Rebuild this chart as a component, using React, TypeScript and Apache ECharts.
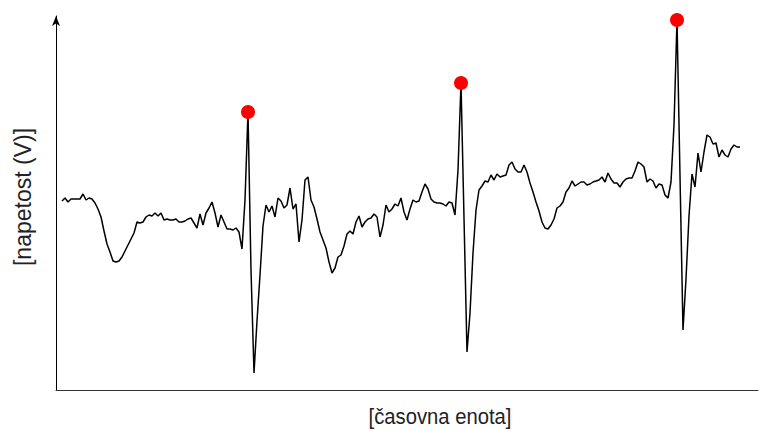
import React, { useEffect, useRef } from "react";
import * as echarts from "echarts";

// ECG trace, one sample every time step (amplitude in mV)
const ecg: number[] = [
  -0.01, 0.02, -0.02, 0.01, 0.01, 0.01, 0.01, 0.06, 0.0, 0.02,
  0.01, -0.03, -0.09, -0.17, -0.31, -0.44, -0.52, -0.61, -0.62, -0.61,
  -0.57, -0.51, -0.45, -0.39, -0.33, -0.22, -0.23, -0.22, -0.17, -0.15,
  -0.16, -0.13, -0.16, -0.13, -0.2, -0.19, -0.2, -0.2, -0.19, -0.22,
  -0.22, -0.21, -0.19, -0.18, -0.23, -0.28, -0.14, -0.25, -0.13, -0.08,
  -0.02, -0.13, -0.27, -0.15, -0.22, -0.29, -0.29, -0.3, -0.28, -0.32,
  -0.49, 0.0, 0.88, -0.7, -1.73, -1.21, -0.75, -0.26, -0.05, -0.12,
  -0.06, -0.17, 0.02, -0.01, -0.08, -0.05, 0.12, -0.09, -0.04, -0.42,
  -0.2, 0.2, 0.23, 0.0, -0.07, -0.19, -0.32, -0.4, -0.48, -0.62,
  -0.73, -0.68, -0.57, -0.55, -0.46, -0.34, -0.31, -0.34, -0.22, -0.16,
  -0.27, -0.22, -0.19, -0.18, -0.14, -0.17, -0.37, -0.25, -0.05, -0.12,
  -0.09, -0.04, -0.06, 0.02, -0.12, -0.2, -0.09, 0.0, -0.02, -0.01,
  0.08, 0.16, 0.11, 0.01, -0.02, -0.03, -0.03, -0.04, -0.06, -0.02,
  -0.03, -0.15, 0.3, 1.17, -0.18, -1.52, -1.13, -0.53, -0.1, 0.1,
  0.14, 0.19, 0.18, 0.25, 0.2, 0.26, 0.23, 0.24, 0.25, 0.35,
  0.38, 0.31, 0.28, 0.28, 0.35, 0.28, 0.17, 0.08, -0.02, -0.11,
  -0.22, -0.28, -0.29, -0.25, -0.19, -0.08, -0.06, -0.02, 0.08, 0.12,
  0.19, 0.14, 0.16, 0.18, 0.18, 0.15, 0.16, 0.18, 0.19, 0.2,
  0.23, 0.18, 0.27, 0.21, 0.17, 0.17, 0.13, 0.18, 0.21, 0.22,
  0.22, 0.29, 0.38, 0.36, 0.33, 0.18, 0.21, 0.19, 0.12, 0.16,
  0.15, 0.05, 0.02, 0.18, 0.75, 1.8, 0.24, -1.3, -0.79, -0.16,
  0.26, 0.13, 0.47, 0.28, 0.48, 0.65, 0.63, 0.56, 0.57, 0.43,
  0.5, 0.45, 0.43, 0.51, 0.55, 0.53, 0.53,
];

// Amplitude above which a local maximum counts as an R peak
const rPeakThreshold = 0.8;

const yTitle = "[napetost (V)]";
const xTitle = "[časovna enota]";

const FONT = "'Liberation Sans', Arial, Helvetica, sans-serif";

export default function App() {
  const ref = useRef<HTMLDivElement>(null);

  useEffect(() => {
    document.body.style.margin = "0";
    if (!ref.current) return;
    const chart = echarts.init(ref.current, null, { renderer: "svg" });

    const trace = ecg.map((v, i) => [i, v]);
    const peaks = trace.filter(
      ([i, v]) =>
        v > rPeakThreshold &&
        v >= (ecg[i - 1] ?? -Infinity) &&
        v >= (ecg[i + 1] ?? -Infinity)
    );

    chart.setOption({
      animation: false,
      backgroundColor: "#fff",
      grid: { left: 56, right: 2, top: 16, bottom: 40 },
      xAxis: {
        type: "value",
        min: -2,
        max: 232,
        axisLine: { show: true, onZero: false, lineStyle: { color: "#333", width: 1 } },
        axisTick: { show: false },
        axisLabel: { show: false },
        splitLine: { show: false },
      },
      yAxis: {
        type: "value",
        min: -1.9,
        max: 1.84,
        axisLine: {
          show: true,
          onZero: false,
          symbol: ["none", "arrow"],
          symbolSize: [6, 10],
          lineStyle: { color: "#000", width: 1 },
        },
        axisTick: { show: false },
        axisLabel: { show: false },
        splitLine: { show: false },
      },
      series: [
        {
          type: "line",
          data: trace,
          showSymbol: false,
          lineStyle: { color: "#000", width: 1.5 },
          z: 2,
        },
        {
          type: "scatter",
          data: peaks,
          symbolSize: 14,
          itemStyle: { color: "#ff0000", opacity: 1 },
          z: 3,
        },
      ],
      graphic: [
        {
          type: "text",
          x: 440,
          y: 416,
          scaleX: 0.92,
          style: {
            text: xTitle,
            fontFamily: FONT,
            fontSize: 22,
            fill: "#222",
            align: "center",
            verticalAlign: "middle",
          },
        },
        {
          type: "text",
          x: 23,
          y: 197,
          rotation: Math.PI / 2,
          style: {
            text: yTitle,
            fontFamily: FONT,
            fontSize: 23,
            fill: "#222",
            align: "center",
            verticalAlign: "middle",
          },
        },
      ],
    });

    return () => chart.dispose();
  }, []);

  return <div ref={ref} style={{ width: 760, height: 430 }} />;
}
